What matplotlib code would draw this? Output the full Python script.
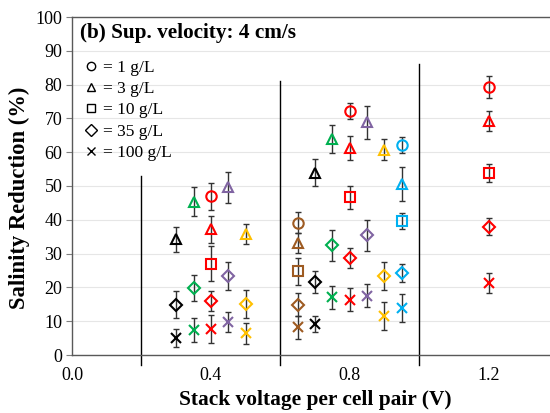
import numpy as np
import matplotlib
matplotlib.use("Agg")
import matplotlib.pyplot as plt
from matplotlib.lines import Line2D

nan = np.nan

# voltage per cell pair for every measured point
volts = [0.3, 0.35, 0.4, 0.45, 0.5, 0.65, 0.7, 0.75, 0.8, 0.85, 0.9, 0.95, 1.2]
point_colors = ['#000000', '#00B050', '#FF0000', '#8064A2', '#FFC000',
                '#9E5B22', '#000000', '#00B050', '#FF0000', '#8064A2',
                '#FFC000', '#00B0F0', '#FF0000']

# salinity reduction (%) and error for each feed concentration
sr_1 = [nan, nan, 46.9, nan, nan, 39.2, nan, nan, 72.2, nan, nan, 62.2, 79.2]
err_1 = [nan, nan, 4.0, nan, nan, 3.0, nan, nan, 2.5, nan, nan, 2.4, 3.3]
sr_3 = [34.2, 45.4, 37.2, 49.6, 35.7, 33.2, 53.9, 64.0, 61.2, 68.9, 60.7, 50.6, 69.2]
err_3 = [3.7, 4.2, 4.0, 4.6, 3.0, 3.0, 4.0, 4.1, 3.5, 4.9, 3.1, 4.9, 2.9]
sr_10 = [nan, nan, 27.0, nan, nan, 24.8, nan, nan, 46.6, nan, nan, 39.7, 53.9]
err_10 = [nan, nan, 5.2, nan, nan, 4.0, nan, nan, 3.3, nan, nan, 2.3, 2.6]
sr_35 = [14.9, 19.8, 15.9, 23.3, 15.1, 14.9, 21.6, 32.4, 28.6, 35.4, 23.3, 24.3, 38.0]
err_35 = [4.0, 3.8, 3.0, 4.2, 4.1, 3.4, 3.3, 4.7, 3.0, 4.6, 4.2, 2.6, 2.5]
sr_100 = [5.0, 7.4, 7.6, 9.7, 6.4, 8.2, 9.2, 17.1, 16.4, 17.6, 11.6, 13.9, 21.3]
err_100 = [2.6, 3.5, 4.1, 2.9, 3.0, 3.4, 2.4, 3.4, 3.4, 3.4, 4.2, 4.1, 3.0]

labels = ['= 1 g/L', '= 3 g/L', '= 10 g/L', '= 35 g/L', '= 100 g/L']
markers = ['o', '^', 's', 'D', 'x']
marker_sizes = [7.5, 7.5, 7.5, 6, 7.5]

# separators between the voltage groups (x, top)
sep_x = [0.2, 0.6, 1.0]
sep_top = [53, 81, 86]

plt.rcParams['font.family'] = ['Liberation Serif', 'DejaVu Serif']

fig = plt.figure(figsize=(5.5, 4.13), dpi=100)
ax = fig.add_axes([72 / 550, 58 / 413, 486 / 550, 338 / 413])

ax.set_xlim(0, 1.4)
ax.set_ylim(0, 100)
ax.set_yticks(np.arange(0, 101, 10))
ax.set_xticks([0.0, 0.4, 0.8, 1.2])
ax.set_xticklabels(['0.0', '0.4', '0.8', '1.2'])
ax.tick_params(axis='x', length=0, labelsize=13, pad=9)
ax.tick_params(axis='y', length=4, direction='out', labelsize=13, color='#7f7f7f', pad=3)
ax.grid(axis='y', color='#e6e6e6', linewidth=0.8)
ax.set_axisbelow(True)
for s in ['left', 'bottom', 'top']:
    ax.spines[s].set_color('#595959')
    ax.spines[s].set_linewidth(1.0)
ax.spines['right'].set_visible(False)

for x, top in zip(sep_x, sep_top):
    ax.plot([x, x], [-3, top], color='black', linewidth=1.0, clip_on=False)

all_sr = [sr_1, sr_3, sr_10, sr_35, sr_100]
all_err = [err_1, err_3, err_10, err_35, err_100]

for sr, err, m, ms in zip(all_sr, all_err, markers, marker_sizes):
    for x, y, e, c in zip(volts, sr, err, point_colors):
        if np.isnan(y):
            continue
        ax.errorbar(x, y, yerr=e, fmt='none', ecolor='#333333',
                    elinewidth=1.0, capsize=2.5, capthick=1.0, zorder=3)
        ax.plot(x, y, marker=m, markersize=ms, markerfacecolor='none',
                markeredgecolor=c, markeredgewidth=1.5, linestyle='none', zorder=4)

handles = [Line2D([], [], marker=m, color='black', markerfacecolor='none',
                  markersize=6, markeredgewidth=1.0, linestyle='none')
           for m in markers]
ax.legend(handles, labels, loc='upper left', bbox_to_anchor=(0.0, 0.91),
          frameon=False, fontsize=12.5, handlelength=0.8, handletextpad=0.3,
          labelspacing=0.3, borderaxespad=0.3)

ax.text(0.016, 0.953, '(b) Sup. velocity: 4 cm/s', transform=ax.transAxes,
        fontsize=15.3, fontweight='bold', va='center', ha='left')

ax.set_xlabel('Stack voltage per cell pair (V)', fontsize=15.4, fontweight='bold')
ax.xaxis.set_label_coords(243 / 486, -35 / 338)
ax.set_ylabel('Salinity Reduction (%)', fontsize=16.3, fontweight='bold')
ax.yaxis.set_label_coords(-42 / 486, (355 - 198) / 338)

fig.savefig('out.png', dpi=100)
